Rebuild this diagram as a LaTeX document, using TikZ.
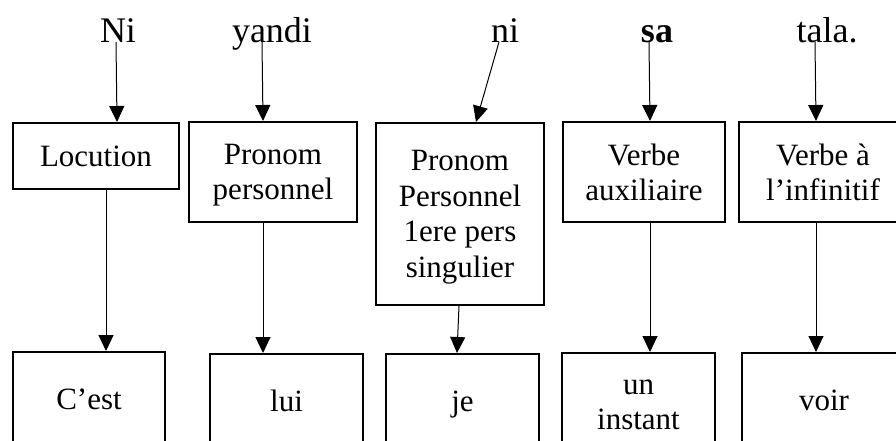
\documentclass[tikz,border=0pt]{standalone}
\usepackage{fontspec}
\setmainfont{Liberation Serif}
\usetikzlibrary{arrows.meta}

\begin{document}
\begin{tikzpicture}[
  word/.style={inner sep=0pt, anchor=base, font=\fontsize{18}{21}\selectfont},
  cat/.style={draw, line width=1pt, anchor=north west, align=center, inner sep=0pt,
    text depth=0pt, font=\fontsize{15.5}{17.75}\selectfont},
  arr/.style={line width=0.5pt, arrows={-{Triangle[width=7.5pt,length=8pt]}}}]
\def\u{0.5pt}

\useasboundingbox (0, 0) rectangle (896*\u, -440*\u);
\clip (0, 0) rectangle (896*\u, -440*\u);

\node (w1) [word] at (118*\u, -42*\u) {Ni};
\node (w2) [word] at (272*\u, -42*\u) {yandi};
\node (w3) [word] at (505*\u, -42*\u) {ni};
\node (w4) [word] at (657*\u, -42*\u) {\textbf{sa}};
\node (w5) [word] at (827*\u, -42*\u) {tala.};

\node (c1) [cat, minimum width=166*\u, minimum height=66*\u] at (12*\u, -122*\u) {Locution};
\node (c2) [cat, minimum width=168*\u, minimum height=100*\u] at (188*\u, -121*\u) {Pronom\\personnel};
\node (c3) [cat, minimum width=168*\u, minimum height=182*\u] at (375*\u, -122*\u) {Pronom\\Personnel\\1ere pers\\singulier};
\node (c4) [cat, minimum width=162*\u, minimum height=100*\u] at (562*\u, -121*\u) {Verbe\\auxiliaire};
\node (c5) [cat, minimum width=168*\u, minimum height=100*\u] at (738*\u, -121*\u) {Verbe à\\l’infinitif};

\node (f1) [cat, minimum width=152*\u, minimum height=94*\u] at (12*\u, -351*\u) {C’est};
\node (f2) [cat, minimum width=153*\u, minimum height=94*\u] at (209*\u, -353*\u) {lui};
\node (f3) [cat, minimum width=153*\u, minimum height=94*\u] at (385*\u, -353*\u) {je};
\node (f4) [cat, minimum width=153*\u, minimum height=103*\u] at (561*\u, -352*\u) {un\\instant};
\node (f5) [cat, minimum width=164*\u, minimum height=94*\u] at (741*\u, -352*\u) {voir};

% words to categories
\draw [arr] ([xshift=-2*\u]w1.base) -- ([xshift=21*\u]c1.north);
\draw [arr] ([xshift=-10*\u]w2.base) -- ([xshift=-10*\u]c2.north);
\draw [arr] ([xshift=-6*\u]w3.base) -- ([xshift=16*\u]c3.north);
\draw [arr] ([xshift=-8*\u]w4.base) -- ([xshift=6*\u]c4.north);
\draw [arr] ([xshift=-12*\u]w5.base) -- ([xshift=-7*\u]c5.north);

% categories to french
\draw [arr] ([xshift=10*\u]c1.south) -- ([xshift=17*\u]f1.north);
\draw [arr] ([xshift=-10*\u]c2.south) -- ([xshift=-23.5*\u]f2.north);
\draw [arr] ([xshift=-1*\u]c3.south) -- ([xshift=-5.5*\u]f3.north);
\draw [arr] ([xshift=6*\u]c4.south) -- ([xshift=11.5*\u]f4.north);
\draw [arr] ([xshift=-7*\u]c5.south) -- ([xshift=-8*\u]f5.north);

\end{tikzpicture}
\end{document}
